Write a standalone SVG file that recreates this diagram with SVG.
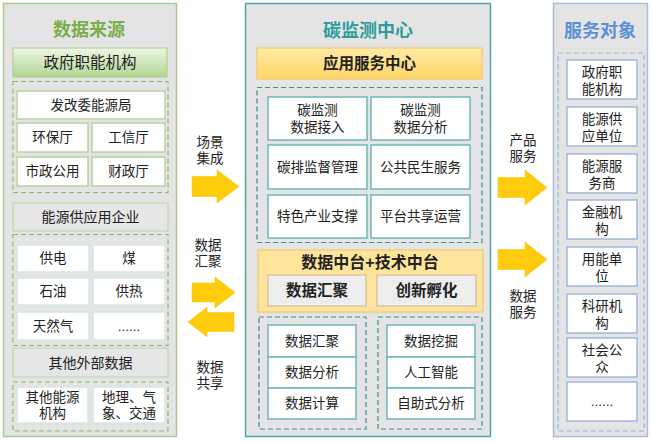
<svg xmlns="http://www.w3.org/2000/svg" width="652" height="442" viewBox="0 0 652 442">
<defs>
<linearGradient id="gGreen" x1="0" y1="0" x2="0" y2="1"><stop offset="0" stop-color="#eef6e6"/><stop offset="1" stop-color="#b0d690"/></linearGradient>
<linearGradient id="gYellow" x1="0" y1="0" x2="0" y2="1"><stop offset="0" stop-color="#ffeaa8"/><stop offset="1" stop-color="#ffd668"/></linearGradient>
<linearGradient id="gYellow2" x1="0" y1="0" x2="0" y2="1"><stop offset="0" stop-color="#ffe49a"/><stop offset="1" stop-color="#fde3a0"/></linearGradient>
</defs>
<style>
text{font-family:"Liberation Sans","Noto Sans CJK SC",sans-serif;text-anchor:middle;dominant-baseline:central;fill:#222}
.panel{fill:#e4e4e4}
.t{font-size:18px;font-weight:bold}
.c{font-size:13.5px}
.b{font-weight:bold}
.dg{fill:none;stroke:#8cb86c;stroke-width:1.2;stroke-dasharray:5,3}
.dt{fill:none;stroke:#3f8f8f;stroke-width:1.2;stroke-dasharray:5,3}
.db{fill:none;stroke:#9ab0d2;stroke-width:1.2;stroke-dasharray:5,3}
.cg{fill:#fff;stroke:#b7d3a2;stroke-width:1.5}
.cw{fill:#fff;stroke:#d6e8df;stroke-width:1.5}
.ct{fill:#fff;stroke:#6fb7b7;stroke-width:1.5}
.cb{fill:#fff;stroke:#93aede;stroke-width:1.3}
.arrow{fill:#ffcc0d;stroke:#f5c000;stroke-width:0.5}
</style>

<g id="panel-left">
<rect class="panel" x="3.5" y="3.5" width="173" height="433" stroke="#a9cb8e" stroke-width="1.5"/>
<text class="t" x="89" y="30" style="fill:#7bae4c">数据来源</text>
</g>
<g id="gov">
<rect x="13" y="48" width="154" height="29" fill="url(#gGreen)" stroke="#a8cd8a"/>
<text x="90" y="62.5" style="font-size:15.5px">政府职能机构</text>
<rect class="dg" x="13" y="81.5" width="155" height="111"/>
<rect class="cg" x="17" y="91" width="148" height="28"/><text class="c" x="91" y="105">发改委能源局</text>
<rect class="cg" x="17" y="123" width="71" height="29"/><text class="c" x="52.5" y="137.5">环保厅</text>
<rect class="cg" x="92" y="123" width="73" height="29"/><text class="c" x="128.5" y="137.5">工信厅</text>
<rect class="cg" x="17" y="157" width="71" height="29"/><text class="c" x="52.5" y="171.5">市政公用</text>
<rect class="cg" x="92" y="157" width="73" height="29"/><text class="c" x="128.5" y="171.5">财政厅</text>
</g>
<g id="energy">
<rect x="13" y="203" width="155" height="28" fill="#e6e6e6" stroke="#b9d4a4"/>
<text x="90.5" y="217" style="font-size:14px">能源供应用企业</text>
<rect class="dg" x="13" y="234.5" width="155" height="111"/>
<rect class="cw" x="17" y="245" width="72" height="27"/><text class="c" x="53" y="258.5">供电</text>
<rect class="cw" x="93" y="245" width="72" height="27"/><text class="c" x="129" y="258.5">煤</text>
<rect class="cw" x="17" y="278" width="72" height="27"/><text class="c" x="53" y="291.5">石油</text>
<rect class="cw" x="93" y="278" width="72" height="27"/><text class="c" x="129" y="291.5">供热</text>
<rect class="cw" x="17" y="312" width="72" height="28"/><text class="c" x="53" y="326">天然气</text>
<rect class="cw" x="93" y="312" width="72" height="28"/><text class="c" x="129" y="326">......</text>
</g>
<g id="other">
<rect x="13" y="348" width="155" height="29" fill="#e6e6e6" stroke="#b9d4a4"/>
<text x="90.5" y="362.5" style="font-size:14px">其他外部数据</text>
<rect class="dg" x="13" y="382" width="155" height="49"/>
<rect class="cw" x="17" y="387" width="71" height="36"/>
<text class="c" x="52.5" y="405"><tspan x="52.5" dy="-8">其他能源</tspan><tspan x="52.5" dy="16">机构</tspan></text>
<rect class="cw" x="93" y="387" width="72" height="36"/>
<text class="c" x="129" y="405"><tspan x="129" dy="-8">地理、气</tspan><tspan x="129" dy="16">象、交通</tspan></text>
</g>

<g id="panel-center">
<rect class="panel" x="245.5" y="3.5" width="245" height="433" stroke="#4fa7a7" stroke-width="1.5"/>
<text class="t" x="368" y="31" style="fill:#2d9d9d">碳监测中心</text>
</g>
<g id="app-center">
<rect x="257" y="48" width="225" height="31" fill="url(#gYellow)" stroke="#f2c55a"/>
<text class="b" x="369.5" y="63.5" style="font-size:15.5px">应用服务中心</text>
<rect class="dt" x="257" y="87.5" width="225" height="155"/>
<rect class="ct" x="268" y="97" width="99" height="43"/><text class="c" x="317.5" y="118.5"><tspan x="317.5" dy="-8.5">碳监测</tspan><tspan x="317.5" dy="17">数据接入</tspan></text>
<rect class="ct" x="371" y="97" width="99" height="43"/><text class="c" x="420.5" y="118.5"><tspan x="420.5" dy="-8.5">碳监测</tspan><tspan x="420.5" dy="17">数据分析</tspan></text>
<rect class="ct" x="268" y="145" width="99" height="44"/><text class="c" x="317.5" y="167">碳排监督管理</text>
<rect class="ct" x="371" y="145" width="99" height="44"/><text class="c" x="420.5" y="167">公共民生服务</text>
<rect class="ct" x="268" y="195" width="99" height="43"/><text class="c" x="317.5" y="216.5">特色产业支撑</text>
<rect class="ct" x="371" y="195" width="99" height="43"/><text class="c" x="420.5" y="216.5">平台共享运营</text>
</g>
<g id="platform">
<rect x="258" y="250" width="225" height="62" fill="url(#gYellow2)" stroke="#f2c55a"/>
<text class="b" x="370" y="262.5" style="font-size:16px">数据中台+技术中台</text>
<rect x="268" y="275" width="98" height="31" fill="#ededed" stroke="#c9b38e"/>
<text class="b" x="317" y="290.5" style="font-size:15.5px">数据汇聚</text>
<rect x="377" y="275" width="99" height="31" fill="#ededed" stroke="#c9b38e"/>
<text class="b" x="426.5" y="290.5" style="font-size:15.5px">创新孵化</text>
</g>
<g id="data-tools">
<rect class="dt" x="259" y="317" width="107" height="112"/>
<rect class="ct" x="268" y="325" width="88" height="32"/><text class="c" x="312" y="341">数据汇聚</text>
<rect class="ct" x="268" y="357" width="88" height="31"/><text class="c" x="312" y="372.5">数据分析</text>
<rect class="ct" x="268" y="388" width="88" height="31"/><text class="c" x="312" y="403.5">数据计算</text>
</g>
<g id="tech-tools">
<rect class="dt" x="378" y="317" width="104" height="112"/>
<rect class="ct" x="387" y="325" width="88" height="32"/><text class="c" x="431" y="341">数据挖掘</text>
<rect class="ct" x="387" y="357" width="88" height="31"/><text class="c" x="431" y="372.5">人工智能</text>
<rect class="ct" x="387" y="388" width="88" height="31"/><text class="c" x="431" y="403.5">自助式分析</text>
</g>

<g id="panel-right">
<rect class="panel" x="553.5" y="3.5" width="94" height="433" stroke="#a9bcd8" stroke-width="1.5"/>
<text class="t" x="600" y="31" style="fill:#5b8fd6">服务对象</text>
<rect class="db" x="558" y="53" width="86" height="378"/>
</g>
<g id="targets">
<rect class="cb" x="567" y="60" width="70" height="39"/><text class="c" x="602" y="80"><tspan x="602" dy="-8.5">政府职</tspan><tspan x="602" dy="17">能机构</tspan></text>
<rect class="cb" x="567" y="107" width="70" height="39"/><text class="c" x="602" y="127"><tspan x="602" dy="-8.5">能源供</tspan><tspan x="602" dy="17">应单位</tspan></text>
<rect class="cb" x="567" y="154" width="70" height="39"/><text class="c" x="602" y="174"><tspan x="602" dy="-8.5">能源服</tspan><tspan x="602" dy="17">务商</tspan></text>
<rect class="cb" x="567" y="200" width="70" height="39"/><text class="c" x="602" y="220"><tspan x="602" dy="-8.5">金融机</tspan><tspan x="602" dy="17">构</tspan></text>
<rect class="cb" x="567" y="247" width="70" height="39"/><text class="c" x="602" y="267"><tspan x="602" dy="-8.5">用能单</tspan><tspan x="602" dy="17">位</tspan></text>
<rect class="cb" x="567" y="294" width="70" height="39"/><text class="c" x="602" y="314"><tspan x="602" dy="-8.5">科研机</tspan><tspan x="602" dy="17">构</tspan></text>
<rect class="cb" x="567" y="338" width="70" height="39"/><text class="c" x="602" y="358"><tspan x="602" dy="-8.5">社会公</tspan><tspan x="602" dy="17">众</tspan></text>
<rect class="cb" x="567" y="382" width="70" height="39"/><text class="c" x="602" y="401">......</text>
</g>

<g id="connectors">
<polygon class="arrow" points="192,176.5 217,176.5 217,170 239,186.5 217,203 217,196.5 192,196.5"/>
<polygon class="arrow" points="192,283 215,283 215,277 235,292.5 215,308 215,302 192,302"/>
<polygon class="arrow" points="234,312.5 207,312.5 207,307 188,322 207,337 207,331.5 234,331.5"/>
<polygon class="arrow" points="498,177.5 525,177.5 525,170 547,187.5 525,205 525,197.5 498,197.5"/>
<polygon class="arrow" points="498,249.5 525,249.5 525,242 547,259.5 525,277 525,269.5 498,269.5"/>
<text class="c" x="210" y="149.5"><tspan x="210" dy="-8">场景</tspan><tspan x="210" dy="16">集成</tspan></text>
<text class="c" x="208" y="252.5"><tspan x="208" dy="-8">数据</tspan><tspan x="208" dy="16">汇聚</tspan></text>
<text class="c" x="210" y="374.5"><tspan x="210" dy="-8">数据</tspan><tspan x="210" dy="16">共享</tspan></text>
<text class="c" x="523" y="147.5"><tspan x="523" dy="-8">产品</tspan><tspan x="523" dy="16">服务</tspan></text>
<text class="c" x="523" y="303.5"><tspan x="523" dy="-8">数据</tspan><tspan x="523" dy="16">服务</tspan></text>
</g>
</svg>
